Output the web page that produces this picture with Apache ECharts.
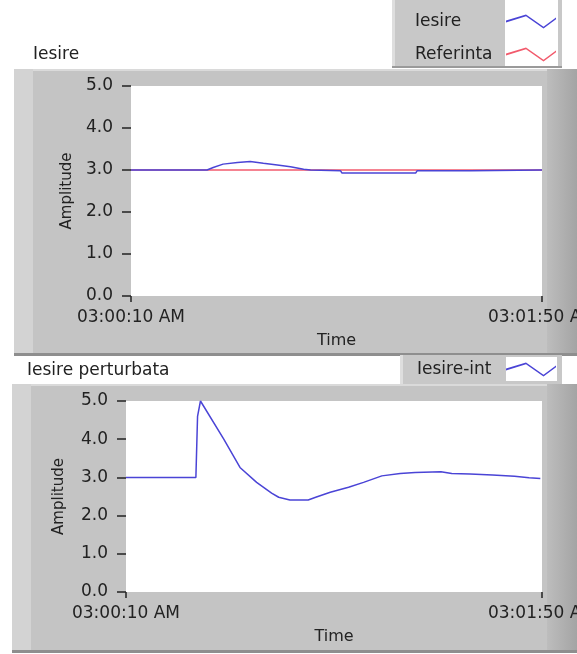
<!DOCTYPE html>
<html>
<head>
<meta charset="utf-8">
<script src="https://cdn.jsdelivr.net/npm/echarts@6/dist/echarts.min.js"></script>
<style>
html,body{margin:0;padding:0;background:#fff;}
#chart{width:577px;height:654px;}
</style>
</head>
<body>
<div id="chart"></div>
<script>
// ---- data (time = seconds after 03:00:10 AM) ----
const xTickLabels = ['03:00:10 AM', '03:01:50 AM'];
const xTickValues = [0, 100];

const iesireTime = [0, 18.5, 20, 22.4, 25.9, 29, 32.2, 35.6, 38.8, 42, 43.7, 44, 51, 51.3, 69.3, 69.6, 82.7, 83, 100];
const iesireVal  = [3.0, 3.0, 3.06, 3.14, 3.18, 3.2, 3.16, 3.12, 3.08, 3.02, 3.0, 2.98, 2.98, 2.93, 2.93, 2.98, 2.98, 3.0, 3.0];

const referintaTime = [0, 100];
const referintaVal  = [3.0, 3.0];

const iesireIntTime = [0, 16.8, 17.2, 17.9, 23.5, 27.4, 31.4, 35.0, 36.7, 39.4, 43.8, 45.6, 49.1, 53.5, 57.1, 61.5, 65.9, 69.5, 75.7, 78.3, 82.7, 88.1, 93.4, 96.9, 99.6];
const iesireIntVal  = [3.0, 3.0, 4.6, 5.0, 4.0, 3.26, 2.87, 2.59, 2.48, 2.41, 2.41, 2.48, 2.61, 2.74, 2.87, 3.04, 3.10, 3.13, 3.15, 3.10, 3.09, 3.06, 3.03, 2.99, 2.97];

const pairs = (t, v) => t.map((x, i) => [x, v[i]]);

const FONT = 'DejaVu Sans';
const TXT = '#222222';
const BLUE = '#4a44d6';
const RED = '#f25a6c';
const zig = 'path://M0,6 L16,0 L30,12 L40,3 L40,4.8 L30,13.8 L16,1.8 L0,7.8 Z';

const chart = echarts.init(document.getElementById('chart'), null, {renderer: 'canvas'});

function xAxisCfg(gi) {
  return {
    gridIndex: gi, type: 'value', min: xTickValues[0], max: xTickValues[1], interval: xTickValues[1] - xTickValues[0],
    axisLine: {show: false},
    axisTick: {show: true, length: 6, lineStyle: {color: TXT, width: 1.5}},
    axisLabel: {margin: 13, fontSize: 17, color: TXT, fontFamily: FONT, showMinLabel: true, showMaxLabel: true,
      formatter: v => xTickLabels[xTickValues.indexOf(v)] || ''},
    splitLine: {show: false},
    name: 'Time', nameLocation: 'middle', nameGap: 37,
    nameTextStyle: {fontSize: 16, color: TXT, fontFamily: FONT}
  };
}
function yAxisCfg(gi, gap) {
  return {
    gridIndex: gi, type: 'value', min: 0, max: 5, interval: 1, offset: 3,
    axisLine: {show: false},
    axisTick: {show: true, length: 9, lineStyle: {color: TXT, width: 1.5}},
    axisLabel: {margin: 15, fontSize: 17, color: TXT, fontFamily: FONT, formatter: v => v.toFixed(1)},
    splitLine: {show: false},
    name: 'Amplitude', nameLocation: 'middle', nameGap: gap, nameRotate: 90,
    nameTextStyle: {fontSize: 15, color: TXT, fontFamily: FONT}
  };
}

const panelFill = '#c4c4c4';
function panel(x, y, w, h) {
  return [
    {type: 'rect', z: -10, shape: {x: x, y: y, width: w, height: h}, style: {fill: panelFill}},
    {type: 'rect', z: -9, shape: {x: x, y: y, width: 19, height: h}, style: {fill: '#d3d3d3'}},
    {type: 'rect', z: -9, shape: {x: 547, y: y, width: 577 - 547, height: h},
      style: {fill: new echarts.graphic.LinearGradient(0, 0, 1, 0, [{offset: 0, color: '#bdbdbd'}, {offset: 1, color: '#a4a4a4'}])}},
    {type: 'rect', z: -9, shape: {x: x + 19, y: y, width: 547 - x - 19, height: 2}, style: {fill: '#dadada'}},
    {type: 'rect', z: -9, shape: {x: x, y: y + h - 3, width: 577 - x, height: 3}, style: {fill: '#8e8e8e'}}
  ];
}

const graphics = [].concat(
  panel(14, 69, 563, 287),
  panel(12, 384, 565, 269),
  [
    // legend box (top)
    {type: 'rect', z: -8, shape: {x: 392, y: 0, width: 170, height: 68}, style: {fill: '#c8c8c8'}},
    {type: 'rect', z: -8, shape: {x: 392, y: 0, width: 3, height: 68}, style: {fill: '#dedede'}},
    {type: 'rect', z: -7, shape: {x: 505, y: 0, width: 53, height: 66}, style: {fill: '#ffffff'}},
    {type: 'rect', z: -7, shape: {x: 392, y: 66, width: 170, height: 2}, style: {fill: '#9a9a9a'}},
    // legend box (bottom)
    {type: 'rect', z: -8, shape: {x: 400, y: 355, width: 162, height: 29}, style: {fill: '#c8c8c8'}},
    {type: 'rect', z: -8, shape: {x: 400, y: 355, width: 3, height: 29}, style: {fill: '#dedede'}},
    {type: 'rect', z: -7, shape: {x: 506, y: 357, width: 51, height: 24}, style: {fill: '#ffffff'}}
  ]
);

function legendCfg(names, left, top, textW, gap) {
  return {
    data: names, left: left, top: top, itemGap: gap,
    orient: 'vertical', align: 'right', padding: 0, itemWidth: 50, itemHeight: 14,
    icon: zig, symbolKeepAspect: false, selectedMode: false,
    formatter: n => '{t|' + n + '}',
    textStyle: {fontSize: 17, color: TXT, fontFamily: FONT,
      rich: {t: {width: textW, align: 'left', fontSize: 17, color: TXT, fontFamily: FONT}}}
  };
}

chart.setOption({
  animation: false,
  backgroundColor: '#ffffff',
  title: [
    {text: 'Iesire', left: 33, top: 46, padding: 0, textStyle: {fontSize: 17, fontWeight: 'normal', color: TXT, fontFamily: FONT}},
    {text: 'Iesire perturbata', left: 27, top: 362, padding: 0, textStyle: {fontSize: 17, fontWeight: 'normal', color: TXT, fontFamily: FONT}}
  ],
  legend: [
    legendCfg(['Iesire', 'Referinta'], 415, 13, 86, 16),
    legendCfg(['Iesire-int'], 417, 361, 84, 10)
  ],
  graphic: graphics,
  grid: [
    {left: 131, right: 35, top: 86, height: 210, show: true, backgroundColor: '#ffffff', borderWidth: 0, outerBoundsMode: 'none'},
    {left: 126, right: 35, top: 401, height: 191, show: true, backgroundColor: '#ffffff', borderWidth: 0, outerBoundsMode: 'none'}
  ],
  xAxis: [xAxisCfg(0), xAxisCfg(1)],
  yAxis: [yAxisCfg(0, 52), yAxisCfg(1, 56)],
  series: [
    {name: 'Referinta', type: 'line', xAxisIndex: 0, yAxisIndex: 0, data: pairs(referintaTime, referintaVal),
      showSymbol: false, color: RED, lineStyle: {width: 1.5, color: RED}},
    {name: 'Iesire', type: 'line', xAxisIndex: 0, yAxisIndex: 0, data: pairs(iesireTime, iesireVal),
      showSymbol: false, color: BLUE, lineStyle: {width: 1.5, color: BLUE}},
    {name: 'Iesire-int', type: 'line', xAxisIndex: 1, yAxisIndex: 1, data: pairs(iesireIntTime, iesireIntVal),
      showSymbol: false, color: BLUE, lineStyle: {width: 1.5, color: BLUE}}
  ]
});
</script>
</body>
</html>
